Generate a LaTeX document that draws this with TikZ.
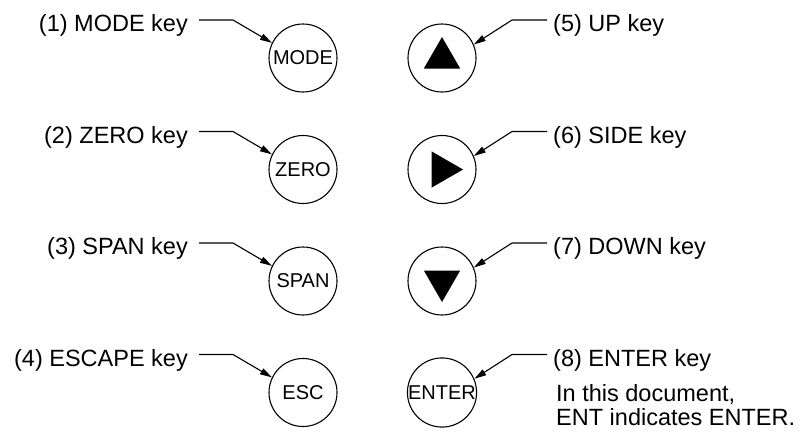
\documentclass[tikz,border=0pt]{standalone}
\usepackage{fontspec}
\setmainfont{Liberation Sans}
\usetikzlibrary{arrows.meta, shapes.geometric}
\tikzset{
  keycap/.style={draw, circle, line width=1.1pt, minimum size=68pt, inner sep=0pt, font=\fontsize{20}{20}\selectfont},
  arrowsign/.style={regular polygon, regular polygon sides=3, fill=black, minimum size=42pt, inner sep=0pt},
  keylabel/.style={inner sep=0pt, font=\fontsize{23.5}{23.5}\selectfont},
  leader/.style={line width=1.1pt, -{Triangle[length=12pt, width=6.5pt]}}
}

\begin{document}
\begin{tikzpicture}[x=1pt, y=-1pt]
    \useasboundingbox (0,0) rectangle (802,434);

    % left column: keys with text
    \node[keycap] (mode) at (303,58) {MODE};
    \node[keycap] (zero) at (303,169.5) {ZERO};
    \node[keycap] (span) at (303,281) {SPAN};
    \node[keycap] (esc) at (303,392.5) {ESC};

    % right column: arrow keys and ENTER
    \node[keycap] (up) at (442,58) {};
    \node[keycap] (side) at (442,169.5) {};
    \node[keycap] (down) at (442,281) {};
    \node[keycap] (enter) at (442,392.5) {ENTER};
    \node[arrowsign] (upsign) at (up.center) {};
    \node[arrowsign, shape border rotate=-90] (sidesign) at (side.center) {};
    \node[arrowsign, shape border rotate=180] (downsign) at (down.center) {};

    % labels
    \node[keylabel, anchor=base east] (modelabel) at (188,31.5) {(1) MODE key};
    \node[keylabel, anchor=base east] (zerolabel) at (188,143) {(2) ZERO key};
    \node[keylabel, anchor=base east] (spanlabel) at (188,254.5) {(3) SPAN key};
    \node[keylabel, anchor=base east] (esclabel) at (188,366) {(4) ESCAPE key};
    \node[keylabel, anchor=base west] (uplabel) at (553,31.5) {(5) UP key};
    \node[keylabel, anchor=base west] (sidelabel) at (553,143) {(6) SIDE key};
    \node[keylabel, anchor=base west] (downlabel) at (553,254.5) {(7) DOWN key};
    \node[keylabel, anchor=base west] (enterlabel) at (553,366) {(8) ENTER key};
    \node[keylabel, anchor=north west, align=left] (entnote) at (556,384.5) {In this document,\\ENT indicates ENTER.};

    % leader lines
    \coordinate (modestart) at (199,20);
    \coordinate (zerostart) at (199,131.5);
    \coordinate (spanstart) at (199,243);
    \coordinate (escstart) at (199,354.5);
    \coordinate (upstart) at (547,20);
    \coordinate (sidestart) at (547,131.5);
    \coordinate (downstart) at (547,243);
    \coordinate (enterstart) at (547,354.5);

    \draw[leader] (modestart) -- ++(34,0) -- (mode.154);
    \draw[leader] (zerostart) -- ++(34,0) -- (zero.154);
    \draw[leader] (spanstart) -- ++(34,0) -- (span.154);
    \draw[leader] (escstart) -- ++(34,0) -- (esc.154);
    \draw[leader] (upstart) -- ++(-35,0) -- (up.23);
    \draw[leader] (sidestart) -- ++(-35,0) -- (side.23);
    \draw[leader] (downstart) -- ++(-35,0) -- (down.23);
    \draw[leader] (enterstart) -- ++(-35,0) -- (enter.23);
\end{tikzpicture}
\end{document}
